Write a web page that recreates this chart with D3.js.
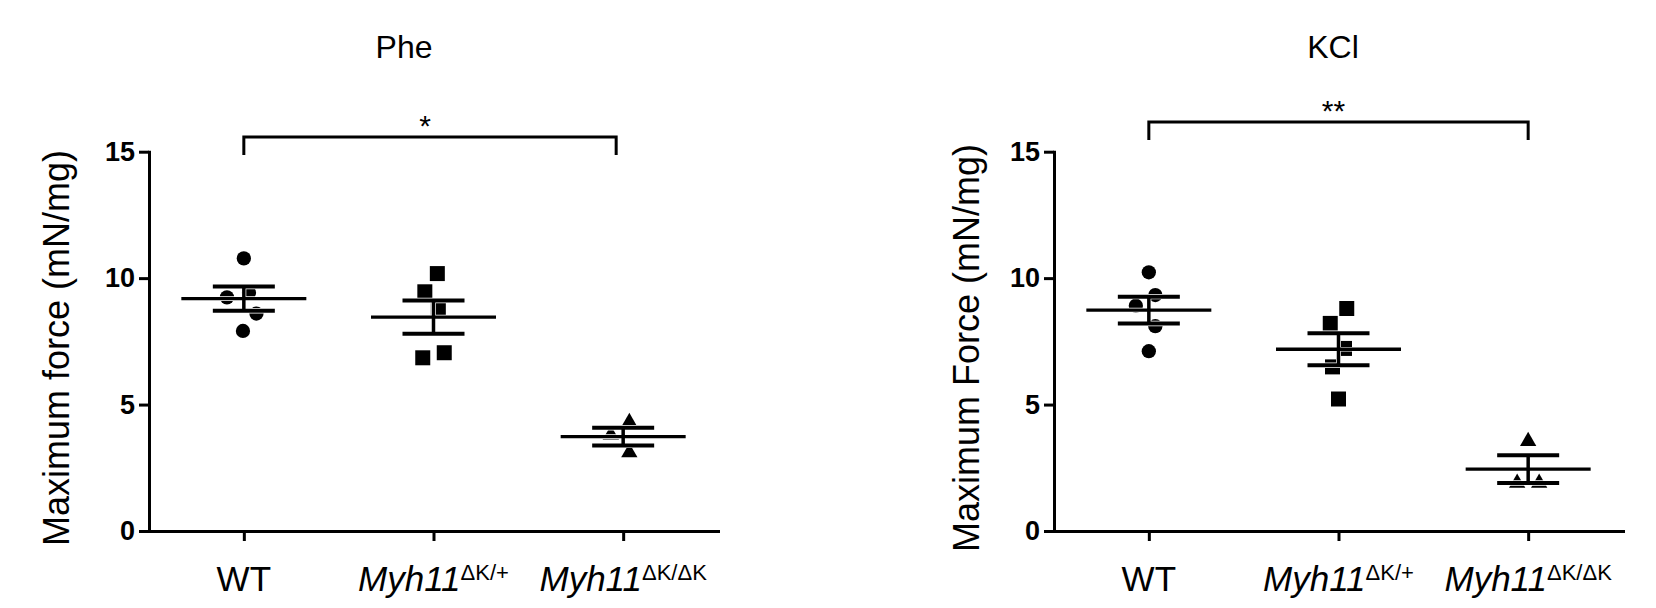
<!DOCTYPE html>
<html><head><meta charset="utf-8">
<script src="https://cdn.jsdelivr.net/npm/d3@7"></script>
<style>body{margin:0;background:#fff} svg{display:block}</style>
</head><body>
<svg id="chart" width="1656" height="608"></svg>
<script>
// ---------- data ----------
const categories = ["WT", "Myh11ΔK/+", "Myh11ΔK/ΔK"];
const labelMain = ["WT", "Myh11", "Myh11"];
const labelSup = ["", "ΔK/+", "ΔK/ΔK"];
const yTicks = [0, 5, 10, 15];
const panelTitles = ["Phe", "KCl"];
const yLabels = ["Maximum force (mN/mg)", "Maximum Force (mN/mg)"];
const sigLabels = ["*", "**"];
const groupSymbols = ["circle", "square", "triangle"];

const pheWT  = [10.78, 9.42, 9.24, 8.60, 7.91];
const pheHet = [10.18, 9.46, 8.76, 7.05, 6.85];
const pheHom = [4.30, 3.80, 3.10];
const kclWT  = [10.23, 9.33, 8.91, 8.10, 7.11];
const kclHet = [8.80, 8.21, 7.22, 6.49, 5.22];
const kclHom = [3.55, 1.90, 1.90];

// ---------- layout ----------
const FONT = "'Liberation Sans', Arial, Helvetica, sans-serif";
const svg = d3.select("#chart");
const yTop = 151.7, yBottom = 531;

const panels = [
  {title: panelTitles[0], ylabel: yLabels[0], sig: sigLabels[0], groups: [pheWT, pheHet, pheHom],
   left: 149, right: 718, titleX: 404, ylabelX: 69, bracketY: 137, bracketInset: 7},
  {title: panelTitles[1], ylabel: yLabels[1], sig: sigLabels[1], groups: [kclWT, kclHet, kclHom],
   left: 1054, right: 1623, titleX: 1333, ylabelX: 979, bracketY: 122, bracketInset: 0}
];

const symbolType = {circle: d3.symbolCircle, square: d3.symbolSquare, triangle: d3.symbolTriangle};
const symbolSize = {circle: 160, square: 225, triangle: 115};

// beeswarm-style dodge, then centre each cluster of neighbouring points
function swarm(values, cx, y, d) {
  const placed = [];
  values.forEach(v => {
    const py = y(v);
    let best = null;
    for (let k = 0; k < 400 && best === null; k++) {
      const cands = k === 0 ? [0] : [-k * 0.5, k * 0.5];
      for (const dx of cands) {
        if (placed.every(p => Math.hypot(p.dx - dx, p.py - py) >= d)) { best = dx; break; }
      }
    }
    placed.push({v, dx: best, py});
  });
  const order = placed.map((p, i) => i).sort((a, b) => placed[a].py - placed[b].py);
  let cluster = [order[0]];
  const clusters = [];
  for (let j = 1; j < order.length; j++) {
    if (placed[order[j]].py - placed[order[j - 1]].py < d) cluster.push(order[j]);
    else { clusters.push(cluster); cluster = [order[j]]; }
  }
  clusters.push(cluster);
  clusters.forEach(c => {
    if (c.length < 2) return;
    const shift = d3.mean(c, i => placed[i].dx);
    c.forEach(i => placed[i].dx -= shift);
  });
  return placed.map(p => ({v: p.v, x: cx + p.dx, y: p.py}));
}

panels.forEach(p => {
  const g = svg.append("g");
  const y = d3.scaleLinear().domain([0, 15]).range([yBottom, yTop]);
  const x = d3.scalePoint().domain(categories).range([p.left, p.right]).padding(0.5);

  // y axis
  const ya = g.append("g").attr("transform", `translate(${p.left},0)`)
    .call(d3.axisLeft(y).tickValues(yTicks).tickSize(10).tickSizeOuter(0).tickPadding(4));
  ya.select(".domain").attr("stroke", "#000").attr("stroke-width", 3).attr("stroke-linecap", "square");
  ya.selectAll(".tick line").attr("stroke", "#000").attr("stroke-width", 3);
  ya.selectAll(".tick text").attr("font-family", FONT).attr("font-size", 27)
    .attr("font-weight", "bold").attr("fill", "#000");

  // x axis
  const xa = g.append("g").attr("transform", `translate(0,${yBottom})`)
    .call(d3.axisBottom(x).tickSize(10).tickSizeOuter(0).tickFormat(""));
  xa.select(".domain").attr("stroke", "#000").attr("stroke-width", 3).attr("stroke-linecap", "square");
  xa.selectAll(".tick line").attr("stroke", "#000").attr("stroke-width", 3);

  categories.forEach((c, i) => {
    const t = g.append("text").attr("x", x(c)).attr("y", 591)
      .attr("text-anchor", "middle").attr("font-family", FONT).attr("font-size", 35).attr("fill", "#000");
    t.append("tspan").attr("font-style", labelSup[i] ? "italic" : "normal").text(labelMain[i]);
    if (labelSup[i]) t.append("tspan").attr("font-size", 22).attr("dy", -11).text(labelSup[i]);
  });

  // title
  g.append("text").attr("x", p.titleX).attr("y", 58).attr("text-anchor", "middle")
    .attr("font-family", FONT).attr("font-size", 32).attr("fill", "#000").text(p.title);

  // y label
  g.append("text").attr("transform", `translate(${p.ylabelX},348) rotate(-90)`)
    .attr("text-anchor", "middle").attr("font-family", FONT).attr("font-size", 36)
    .attr("fill", "#000").text(p.ylabel);

  // significance bracket
  const bx0 = x(categories[0]), bx1 = x(categories[2]) - p.bracketInset;
  g.append("path").attr("d", `M${bx0},${p.bracketY + 18}V${p.bracketY}H${bx1}V${p.bracketY + 18}`)
    .attr("fill", "none").attr("stroke", "#000").attr("stroke-width", 3);
  g.append("text").attr("x", (bx0 + bx1) / 2 - 5).attr("y", p.bracketY - 1).attr("text-anchor", "middle")
    .attr("font-family", FONT).attr("font-size", 30).attr("fill", "#000").text(p.sig);

  // groups
  p.groups.forEach((vals, i) => {
    const cx = x(categories[i]);
    const sym = groupSymbols[i];
    const pts = swarm(vals, cx, y, 22);
    g.append("g").selectAll("path").data(pts).join("path")
      .attr("transform", d => `translate(${d.x},${d.y})`)
      .attr("d", d3.symbol().type(symbolType[sym]).size(symbolSize[sym]))
      .attr("fill", "#000");

    const m = d3.mean(vals);
    const sem = d3.deviation(vals) / Math.sqrt(vals.length);
    const segs = [
      {x1: cx - 62.5, x2: cx + 62.5, y1: y(m), y2: y(m), w: 3.3},
      {x1: cx - 31, x2: cx + 31, y1: y(m + sem), y2: y(m + sem), w: 4},
      {x1: cx - 31, x2: cx + 31, y1: y(m - sem), y2: y(m - sem), w: 4},
      {x1: cx, x2: cx, y1: y(m + sem), y2: y(m - sem), w: 3.5}
    ];
    const eg = g.append("g");
    eg.selectAll("line.halo").data(segs).join("line").attr("class", "halo")
      .attr("x1", d => d.x1).attr("x2", d => d.x2).attr("y1", d => d.y1).attr("y2", d => d.y2)
      .attr("stroke", "#fff").attr("stroke-width", d => d.w + 1.4);
    eg.selectAll("line.bar").data(segs).join("line").attr("class", "bar")
      .attr("x1", d => d.x1).attr("x2", d => d.x2).attr("y1", d => d.y1).attr("y2", d => d.y2)
      .attr("stroke", "#000").attr("stroke-width", d => d.w);
  });
});
</script>
</body></html>
